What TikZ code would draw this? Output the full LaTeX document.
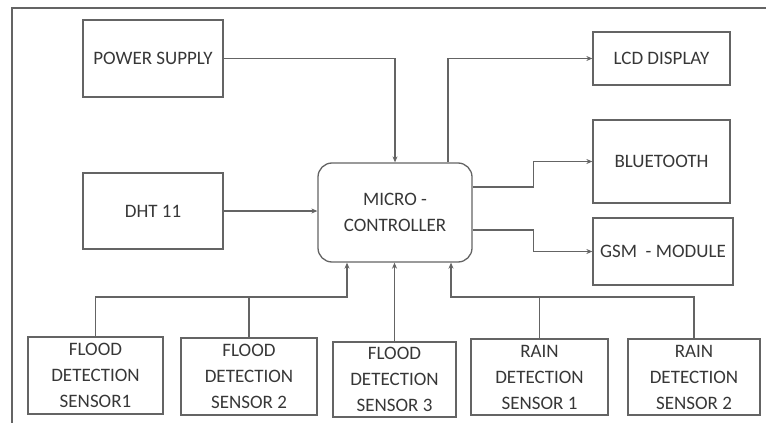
\documentclass[tikz,border=0pt]{standalone}
\usepackage{fontspec}
\setmainfont{Carlito}
\usetikzlibrary{arrows.meta}
\definecolor{linegray}{RGB}{100,100,100}
\definecolor{txtgray}{RGB}{55,55,55}
\begin{document}
\begin{tikzpicture}[x=1pt,y=-1pt,
 blk/.style={draw=linegray, line width=1.3pt, inner sep=0pt, align=center, text=txtgray, font=\fontsize{19}{26}\selectfont},
 conn/.style={draw=linegray, line width=1.3pt},
 arr/.style={conn, -{Stealth[length=6pt,width=5pt]}}]
\useasboundingbox (0,0) rectangle (766,423);
\draw[conn] (12,423) -- (12,8) -- (766,8);
\node[blk, minimum width=140pt, minimum height=77pt] (ps) at (153,58.5) {POWER SUPPLY};
\node[blk, minimum width=140pt, minimum height=76pt] (dht) at (153,211) {DHT 11};
\node[blk, minimum width=154pt, minimum height=99pt, rounded corners=14pt] (mc) at (395,212.5) {MICRO -\\CONTROLLER};
\node[blk, minimum width=137pt, minimum height=53pt] (lcd) at (661.5,58.5) {LCD DISPLAY};
\node[blk, minimum width=137pt, minimum height=83pt] (bt) at (661.5,161.5) {BLUETOOTH};
\node[blk, minimum width=140pt, minimum height=67pt] (gsm) at (663,251.5) {GSM\ \ - MODULE};
\node[blk, minimum width=135pt, minimum height=77pt] (f1) at (95.5,375.5) {FLOOD\\DETECTION\\SENSOR1};
\node[blk, minimum width=136pt, minimum height=77pt] (f2) at (249,376.5) {FLOOD\\DETECTION\\SENSOR 2};
\node[blk, minimum width=123pt, minimum height=75pt] (f3) at (394.5,379.5) {FLOOD\\DETECTION\\SENSOR 3};
\node[blk, minimum width=137pt, minimum height=76pt] (r1) at (539.5,377) {RAIN\\DETECTION\\SENSOR 1};
\node[blk, minimum width=132pt, minimum height=76pt] (r2) at (694,377) {RAIN\\DETECTION\\SENSOR 2};
\coordinate (jl) at (347,297);
\coordinate (jr) at (451,297);
\draw[arr] (ps.east) -| (mc.north);
\draw[arr] (dht.east) -- (dht.east -| mc.west);
\draw[arr] ([xshift=53pt]mc.north) |- (lcd.west);
\draw[arr] ([yshift=25.5pt]mc.east) -- ++(61,0) |- (bt.west);
\draw[arr] ([yshift=-17.5pt]mc.east) -- ++(61,0) |- (gsm.west);
\draw[arr] (f1.north) |- (jl) -- (jl |- mc.south);
\draw[conn] (f2.north) -- (f2.north |- jl);
\draw[arr] (f3.north) -- (f3.north |- mc.south);
\draw[arr] (r2.north) |- (jr) -- (jr |- mc.south);
\draw[conn] (r1.north) -- (r1.north |- jr);
\end{tikzpicture}
\end{document}
